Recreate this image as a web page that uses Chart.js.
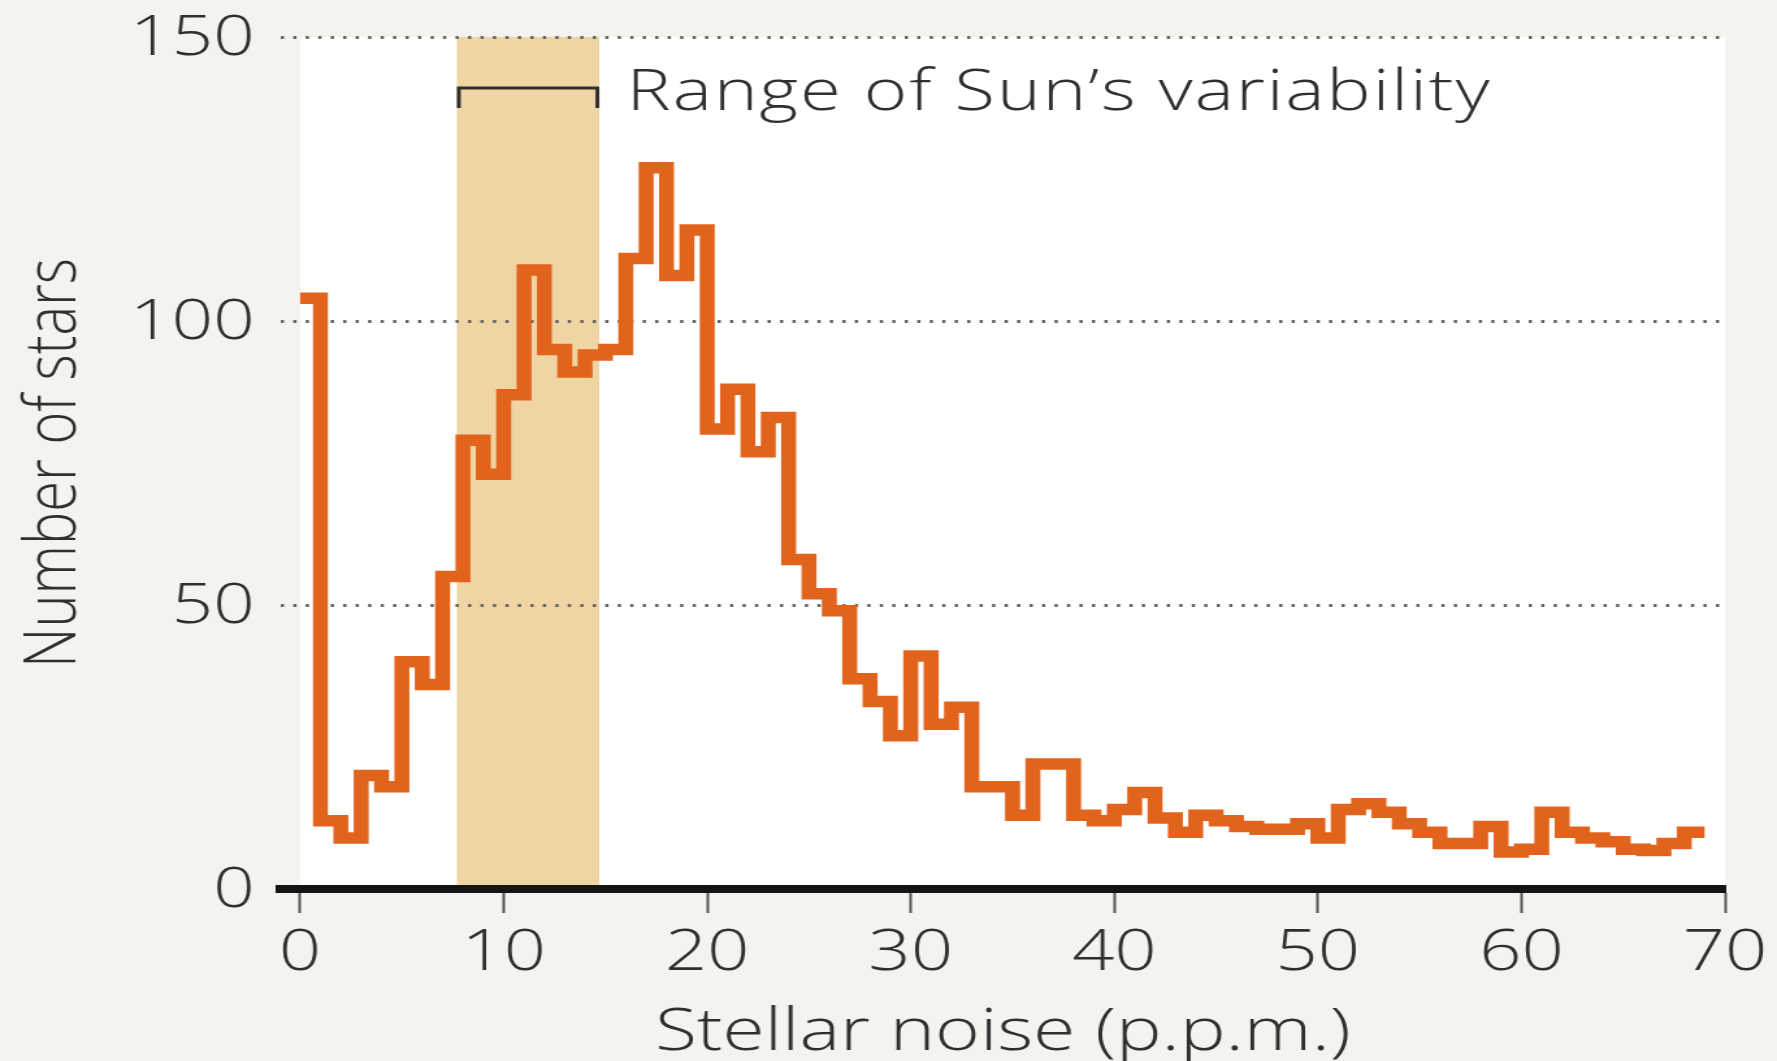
<!DOCTYPE html>
<html>
<head>
<meta charset="utf-8">
<title>Stellar noise</title>
<script src="https://cdn.jsdelivr.net/npm/chart.js@4.4.1/dist/chart.umd.min.js"></script>
<style>
  html, body { margin: 0; padding: 0; background: #f4f3ef; overflow: hidden; }
  /* the chart is drawn on a narrower bitmap and widened, which gives the wide lettering */
  #wrap { width: 1367px; height: 1061px; transform: scaleX(1.2999); transform-origin: 0 0; }
  #noiseChart { display: block; }
</style>
</head>
<body>
<div id="wrap">
  <canvas id="noiseChart" width="1367" height="1061" style="width:1367px;height:1061px"></canvas>
</div>
<script>
// left edges of the 1 p.p.m. bins, plus the closing edge
const binEdges = [
  0, 1, 2, 3, 4, 5, 6, 7, 8, 9,
  10, 11, 12, 13, 14, 15, 16, 17, 18, 19,
  20, 21, 22, 23, 24, 25, 26, 27, 28, 29,
  30, 31, 32, 33, 34, 35, 36, 37, 38, 39,
  40, 41, 42, 43, 44, 45, 46, 47, 48, 49,
  50, 51, 52, 53, 54, 55, 56, 57, 58, 59,
  60, 61, 62, 63, 64, 65, 66, 67, 68, 69
];

// number of stars in each bin
const starCounts = [
  104, 12, 9, 20, 18, 40, 36, 55, 79, 73,
  87, 109, 95, 91, 94, 95, 111, 127, 108, 116,
  81, 88, 77, 83, 58, 52, 49, 37, 33, 27,
  41, 29, 32, 18, 18, 13, 22, 22, 13, 12,
  14, 17, 12.5, 10, 13, 12, 11, 10.5, 10.5, 11.5,
  9, 14, 15, 13.5, 11.5, 10, 8, 8, 11, 6.5,
  7, 13.5, 10, 9, 8.3, 7, 6.8, 8, 10
];

const xTicks = [0, 10, 20, 30, 40, 50, 60, 70];
const yTicks = [0, 50, 100, 150];

// solar variability band (p.p.m.)
const sunRange = [7.7, 14.7];
const sunLabel = 'Range of Sun’s variability';

const xTitle = 'Stellar noise (p.p.m.)';
const yTitle = 'Number of stars';

const inkColor = '#2f2f2f';
const lineColor = '#e2631c';
const bandColor = '#f0d5a4';
const fontFamily = "'Open Sans', 'Noto Sans', sans-serif";

// step line: each bin value held until the next edge
const histPoints = starCounts.map((v, i) => ({ x: binEdges[i], y: v }));
histPoints.push({ x: binEdges[starCounts.length], y: starCounts[starCounts.length - 1] });

const xMin = xTicks[0], xMax = xTicks[xTicks.length - 1];
const yMin = yTicks[0], yMax = yTicks[yTicks.length - 1];

// white plotting field and the shaded band, under the grid
const plotBackdrop = {
  id: 'plotBackdrop',
  beforeDraw(chart) {
    const { ctx, scales: { x, y } } = chart;
    const top = y.getPixelForValue(yMax);
    const bottom = y.getPixelForValue(yMin);
    ctx.save();
    ctx.fillStyle = '#ffffff';
    const left = x.getPixelForValue(xMin);
    ctx.fillRect(left, top, x.getPixelForValue(xMax) - left, bottom - top);
    ctx.fillStyle = bandColor;
    const b0 = x.getPixelForValue(sunRange[0]);
    ctx.fillRect(b0, top, x.getPixelForValue(sunRange[1]) - b0, bottom - top);
    ctx.restore();
  }
};

// bracket over the band with its label
const sunBracket = {
  id: 'sunBracket',
  afterDatasetsDraw(chart) {
    const { ctx, scales: { x, y } } = chart;
    const x0 = x.getPixelForValue(sunRange[0]);
    const x1 = x.getPixelForValue(sunRange[1]);
    const yBar = y.getPixelForValue(141);
    const yFoot = y.getPixelForValue(137.5);
    ctx.save();
    ctx.strokeStyle = inkColor;
    ctx.lineWidth = 3;
    ctx.beginPath();
    ctx.moveTo(x0 + 1.5, yFoot);
    ctx.lineTo(x0 + 1.5, yBar);
    ctx.lineTo(x1 - 1.5, yBar);
    ctx.lineTo(x1 - 1.5, yFoot);
    ctx.stroke();
    ctx.fillStyle = inkColor;
    ctx.font = `300 57px ${fontFamily}`;
    ctx.letterSpacing = '1.5px';
    ctx.textAlign = 'left';
    ctx.textBaseline = 'alphabetic';
    ctx.fillText(sunLabel, x1 + 21, yBar + 22);
    ctx.restore();
  }
};

new Chart(document.getElementById('noiseChart'), {
  type: 'line',
  data: {
    datasets: [{
      data: histPoints,
      stepped: 'before',
      borderColor: lineColor,
      borderWidth: 11.5,
      pointRadius: 0,
      fill: false,
      tension: 0
    }]
  },
  options: {
    responsive: false,
    devicePixelRatio: 1,
    animation: false,
    events: [],
    layout: { padding: { top: 37, right: 40, left: 0, bottom: 0 } },
    plugins: {
      legend: { display: false },
      tooltip: { enabled: false }
    },
    scales: {
      x: {
        type: 'linear',
        min: -0.95,
        max: xMax,
        afterBuildTicks: (axis) => { axis.ticks = xTicks.map(v => ({ value: v })); },
        afterFit: (axis) => { axis.height = 172; },
        grid: {
          drawOnChartArea: false,
          drawTicks: true,
          tickLength: 24,
          tickWidth: 2,
          tickColor: '#555555'
        },
        border: { display: true, color: '#141414', width: 8 },
        ticks: {
          padding: 7,
          color: inkColor,
          maxRotation: 0,
          font: { family: fontFamily, size: 57, weight: '300' }
        },
        title: {
          display: true,
          text: xTitle,
          color: inkColor,
          padding: { top: 0, bottom: -8 },
          font: { family: fontFamily, size: 59, weight: '300' }
        }
      },
      y: {
        min: yMin,
        max: yMax,
        afterBuildTicks: (axis) => { axis.ticks = yTicks.map(v => ({ value: v })); },
        afterFit: (axis) => { axis.width = 216; },
        grid: {
          drawTicks: true,
          tickLength: 20,
          tickColor: 'rgba(0,0,0,0)',
          lineWidth: 3,
          color: (ctx) => (ctx.tick && ctx.tick.value === 0) ? 'rgba(0,0,0,0)' : '#666666'
        },
        border: { display: false, dash: [2.5, 7.1] },
        ticks: {
          padding: 0,
          labelOffset: 2,
          color: inkColor,
          font: { family: fontFamily, size: 56, weight: '300', lineHeight: 1 }
        },
        title: {
          display: true,
          text: yTitle,
          color: inkColor,
          padding: { top: 8, bottom: 0 },
          font: { family: fontFamily, size: 56, weight: '300' }
        }
      }
    }
  },
  plugins: [plotBackdrop, sunBracket]
});
</script>
</body>
</html>
